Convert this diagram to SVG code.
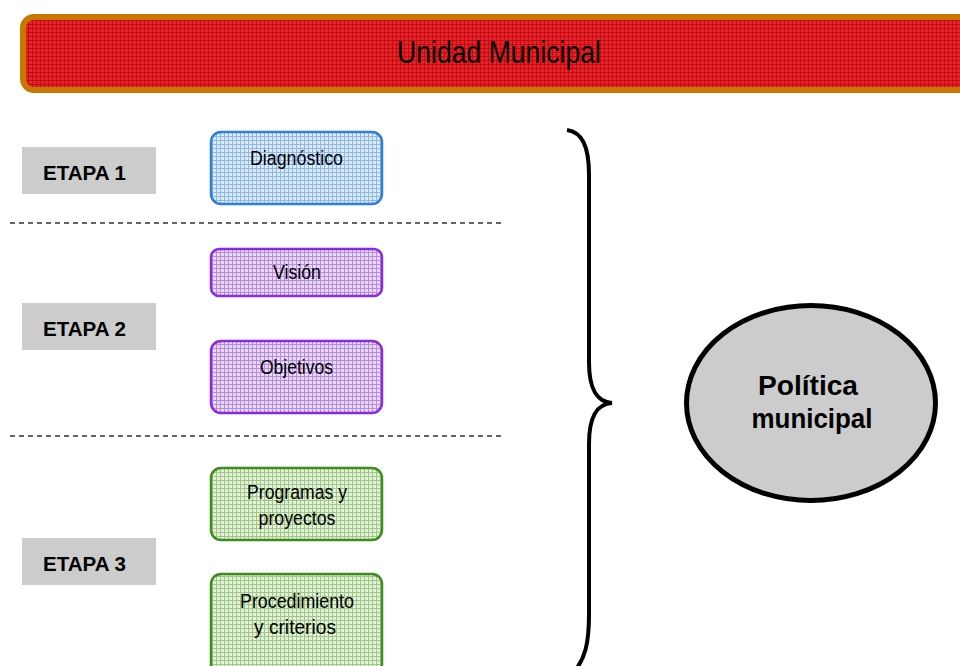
<svg xmlns="http://www.w3.org/2000/svg" width="960" height="666" viewBox="0 0 960 666">
  <defs>
    <pattern id="pRed" width="4" height="4" patternUnits="userSpaceOnUse">
      <rect width="4" height="4" fill="#E0262A"/>
      <path d="M0 0.5H4M0.5 0V4" stroke="#C80A10" stroke-width="1"/>
    </pattern>
    <pattern id="pBlue" width="4" height="4" patternUnits="userSpaceOnUse">
      <rect width="4" height="4" fill="#DCEAF8"/>
      <path d="M0 0.5H4M0.5 0V4" stroke="#8DB8E8" stroke-width="1"/>
    </pattern>
    <pattern id="pPurple" width="4" height="4" patternUnits="userSpaceOnUse">
      <rect width="4" height="4" fill="#E8DAF6"/>
      <path d="M0 0.5H4M0.5 0V4" stroke="#B68BE2" stroke-width="1"/>
    </pattern>
    <pattern id="pGreen" width="4" height="4" patternUnits="userSpaceOnUse">
      <rect width="4" height="4" fill="#E4F0DC"/>
      <path d="M0 0.5H4M0.5 0V4" stroke="#9CC884" stroke-width="1"/>
    </pattern>
  </defs>
  <style>
    .t { font-family: "Liberation Sans", Arial, sans-serif; fill: #000; }
    .lbl { font-size: 20px; }
    .box { stroke-width: 2.5; }
    .etapa rect { fill: #CCCCCC; }
    .etapa text { font-family: "Liberation Sans", Arial, sans-serif; font-weight: bold; font-size: 21px; fill: #000; }
    .dash { stroke: #333; stroke-width: 1.3; stroke-dasharray: 5 4; fill: none; }
  </style>
  <rect width="960" height="666" fill="#fff"/>

  <g id="banner">
    <rect x="23" y="17" width="960" height="73" rx="11" fill="url(#pRed)" stroke="#C87800" stroke-width="6"/>
    <text class="t" x="499" y="63" font-size="32" text-anchor="middle" textLength="204" lengthAdjust="spacingAndGlyphs">Unidad Municipal</text>
  </g>

  <g id="etapa1" class="etapa">
    <rect x="22" y="147" width="134" height="47"/>
    <text x="43" y="180" textLength="83" lengthAdjust="spacingAndGlyphs">ETAPA 1</text>
  </g>
  <g id="etapa2" class="etapa">
    <rect x="22" y="303" width="134" height="47"/>
    <text x="43" y="336" textLength="83" lengthAdjust="spacingAndGlyphs">ETAPA 2</text>
  </g>
  <g id="etapa3" class="etapa">
    <rect x="22" y="538" width="134" height="47"/>
    <text x="43" y="571" textLength="83" lengthAdjust="spacingAndGlyphs">ETAPA 3</text>
  </g>

  <g id="separators">
    <line class="dash" x1="10" y1="223" x2="503" y2="223"/>
    <line class="dash" x1="10" y1="436" x2="503" y2="436"/>
  </g>

  <g id="diagnostico">
    <rect class="box" x="211" y="132" width="171" height="72" rx="10" fill="url(#pBlue)" stroke="#2F7ED8"/>
    <text class="t lbl" x="296.5" y="165" text-anchor="middle" textLength="93" lengthAdjust="spacingAndGlyphs">Diagnóstico</text>
  </g>
  <g id="vision">
    <rect class="box" x="211" y="249" width="171" height="47" rx="8" fill="url(#pPurple)" stroke="#8A2BE2"/>
    <text class="t lbl" x="297" y="279" text-anchor="middle" textLength="48" lengthAdjust="spacingAndGlyphs">Visión</text>
  </g>
  <g id="objetivos">
    <rect class="box" x="211" y="341" width="171" height="72" rx="10" fill="url(#pPurple)" stroke="#8A2BE2"/>
    <text class="t lbl" x="296.5" y="374" text-anchor="middle" textLength="73" lengthAdjust="spacingAndGlyphs">Objetivos</text>
  </g>
  <g id="programas">
    <rect class="box" x="211" y="468" width="171" height="72" rx="10" fill="url(#pGreen)" stroke="#3E8E1E"/>
    <text class="t lbl" x="297" y="499" text-anchor="middle" textLength="100" lengthAdjust="spacingAndGlyphs">Programas y</text>
    <text class="t lbl" x="297" y="525" text-anchor="middle" textLength="77" lengthAdjust="spacingAndGlyphs">proyectos</text>
  </g>
  <g id="procedimiento">
    <rect class="box" x="211" y="574" width="171" height="100" rx="10" fill="url(#pGreen)" stroke="#3E8E1E"/>
    <text class="t lbl" x="297" y="608" text-anchor="middle" textLength="114" lengthAdjust="spacingAndGlyphs">Procedimiento</text>
    <text class="t lbl" x="295" y="634" text-anchor="middle" textLength="82" lengthAdjust="spacingAndGlyphs">y criterios</text>
  </g>

  <g id="connectors">
    <path d="M567 130 C582 132 589 146 589 175 L589 362 C589 390 597 402 612 403 C597 404 589 416 589 444 L589 614 C589 646 584 658 577 668" fill="none" stroke="#000" stroke-width="4"/>
  </g>

  <g id="politica">
    <ellipse cx="811" cy="403" rx="124.5" ry="97.5" fill="#CCCCCC" stroke="#000" stroke-width="5"/>
    <text class="t" x="808" y="395" font-size="27" font-weight="bold" text-anchor="middle" textLength="100" lengthAdjust="spacingAndGlyphs">Política</text>
    <text class="t" x="812" y="428" font-size="27" font-weight="bold" text-anchor="middle" textLength="121" lengthAdjust="spacingAndGlyphs">municipal</text>
  </g>
</svg>
